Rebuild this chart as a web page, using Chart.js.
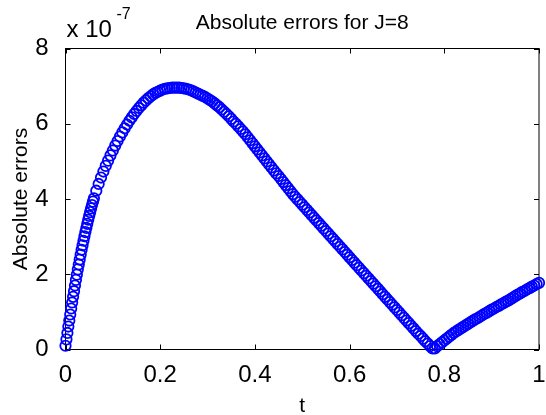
<!DOCTYPE html>
<html>
<head>
<meta charset="utf-8">
<script src="https://cdn.jsdelivr.net/npm/chart.js@4.4.1/dist/chart.umd.min.js"></script>
<style>
  html, body { margin: 0; padding: 0; background: #fff; }
  canvas { display: block; }
</style>
</head>
<body>
<canvas id="chart" width="546" height="415"></canvas>
<script>
// values, in units of 1e-7
const titleText = 'Absolute errors for J=8';
const xLabel = 't';
const yLabel = 'Absolute errors';
const yExponent = '-7';

const xTicks = [0, 0.2, 0.4, 0.6, 0.8, 1];
const yTicks = [0, 2, 4, 6, 8];

// steep start, sampled finer: t = 0 .. 0.060, step 0.002
const earlyStart = 0, earlyStep = 0.002;
const earlyErrors = [
  0.10, 0.27, 0.44, 0.61, 0.77, 0.93, 1.09, 1.25, 1.40, 1.55,
  1.70, 1.85, 1.99, 2.13, 2.26, 2.39, 2.52, 2.65, 2.77, 2.89,
  3.01, 3.12, 3.23, 3.34, 3.45, 3.55, 3.65, 3.75, 3.84, 3.93,
  4.02
];

// rest of the curve: t = 0.065 .. 1.000, step 0.005
const mainStart = 0.065, mainStep = 0.005;
const mainErrors = [
  4.22, 4.40, 4.57, 4.73, 4.88, 5.02, 5.16, 5.29, 5.42, 5.54,
  5.66, 5.77, 5.88, 5.98, 6.08, 6.17, 6.26, 6.34, 6.42, 6.49,
  6.56, 6.62, 6.68, 6.73, 6.78, 6.82, 6.85, 6.88, 6.91, 6.93,
  6.94, 6.95, 6.96, 6.96, 6.96, 6.96, 6.95, 6.94, 6.93, 6.91,
  6.89, 6.86, 6.83, 6.80, 6.77, 6.74, 6.71, 6.67, 6.63, 6.59,
  6.54, 6.49, 6.44, 6.38, 6.32, 6.26, 6.20, 6.13, 6.06, 6.00,
  5.93, 5.86, 5.79, 5.72, 5.64, 5.56, 5.48, 5.40, 5.32, 5.24,
  5.16, 5.08, 5.00, 4.92, 4.84, 4.76, 4.68, 4.61, 4.53, 4.45,
  4.37, 4.29, 4.21, 4.13, 4.06, 3.99, 3.92, 3.85, 3.78, 3.71,
  3.64, 3.57, 3.50, 3.43, 3.36, 3.29, 3.22, 3.15, 3.08, 3.01,
  2.94, 2.87, 2.80, 2.73, 2.66, 2.59, 2.52, 2.45, 2.38, 2.31,
  2.24, 2.17, 2.10, 2.03, 1.96, 1.89, 1.82, 1.75, 1.68, 1.61,
  1.54, 1.47, 1.40, 1.33, 1.26, 1.19, 1.12, 1.05, 0.98, 0.91,
  0.84, 0.77, 0.70, 0.63, 0.56, 0.49, 0.42, 0.36, 0.29, 0.22,
  0.16, 0.09, 0.03, 0.03, 0.09, 0.14, 0.19, 0.24, 0.29, 0.34,
  0.39, 0.44, 0.48, 0.52, 0.56, 0.60, 0.64, 0.68, 0.72, 0.76,
  0.80, 0.83, 0.87, 0.91, 0.95, 0.98, 1.02, 1.06, 1.09, 1.13,
  1.16, 1.20, 1.23, 1.27, 1.30, 1.34, 1.38, 1.42, 1.46, 1.49,
  1.53, 1.56, 1.60, 1.63, 1.67, 1.70, 1.74, 1.77
];

const points = [
  ...earlyErrors.map((v, i) => ({ x: +(earlyStart + i * earlyStep).toFixed(4), y: v })),
  ...mainErrors.map((v, i) => ({ x: +(mainStart + i * mainStep).toFixed(4), y: v })),
];

const FONT = "'Liberation Sans', Arial, sans-serif";

// MATLAB style box with inward ticks on all four sides
const matlabAxes = {
  id: 'matlabAxes',
  beforeDatasetsDraw(chart) {
    const { ctx, chartArea: a, scales: { x, y } } = chart;
    const tl = 5;
    ctx.save();
    ctx.strokeStyle = '#000';
    ctx.lineWidth = 1;
    ctx.strokeRect(a.left, a.top, a.right - a.left, a.bottom - a.top);
    ctx.beginPath();
    xTicks.forEach(v => {
      const px = Math.round(x.getPixelForValue(v)) + 0.5;
      ctx.moveTo(px, a.bottom); ctx.lineTo(px, a.bottom - tl);
      ctx.moveTo(px, a.top); ctx.lineTo(px, a.top + tl);
    });
    yTicks.forEach(v => {
      const py = Math.round(y.getPixelForValue(v)) + 0.5;
      ctx.moveTo(a.left, py); ctx.lineTo(a.left + tl, py);
      ctx.moveTo(a.right, py); ctx.lineTo(a.right - tl, py);
    });
    ctx.stroke();
    ctx.restore();
  },
  afterDraw(chart) {
    const { ctx, chartArea: a } = chart;
    ctx.save();
    ctx.fillStyle = '#000';
    ctx.textBaseline = 'alphabetic';
    ctx.textAlign = 'center';
    ctx.font = `21px ${FONT}`;
    ctx.fillText(titleText, (a.left + a.right) / 2, 29);
    ctx.textAlign = 'left';
    ctx.font = `24px ${FONT}`;
    ctx.fillText('x 10', a.left + 1, 37);
    ctx.font = `16px ${FONT}`;
    ctx.fillText(yExponent, a.left + 51, 19);
    ctx.restore();
  }
};

new Chart(document.getElementById('chart'), {
  type: 'scatter',
  data: {
    datasets: [{
      data: points,
      showLine: false,
      pointStyle: 'circle',
      pointRadius: 5.2,
      pointHoverRadius: 5.2,
      borderWidth: 1.8,
      borderColor: '#0000ff',
      backgroundColor: 'rgba(0,0,0,0)',
      clip: false,
    }]
  },
  options: {
    responsive: false,
    animation: false,
    devicePixelRatio: 1,
    layout: { padding: { top: 48.5, right: 1.5, left: 0, bottom: 0 } },
    plugins: {
      legend: { display: false },
      tooltip: { enabled: false },
      title: { display: false },
    },
    scales: {
      x: {
        type: 'linear',
        min: 0, max: 1,
        grid: { display: false },
        border: { display: false },
        afterBuildTicks: s => { s.ticks = xTicks.map(v => ({ value: v })); },
        afterFit: s => { s.height = 65.5; s.paddingLeft = 0; s.paddingRight = 0; },
        ticks: {
          color: '#000',
          font: { family: FONT, size: 24 },
          padding: 3,
          maxRotation: 0,
          autoSkip: false,
          callback: v => String(+v.toFixed(1)),
        },
        title: {
          display: true,
          text: xLabel,
          color: '#000',
          font: { family: FONT, size: 21 },
          padding: { top: 0, bottom: -4 },
        },
      },
      y: {
        type: 'linear',
        min: 0, max: 8,
        grid: { display: false },
        border: { display: false },
        afterBuildTicks: s => { s.ticks = yTicks.map(v => ({ value: v })); },
        afterFit: s => { s.width = 65.5; s.paddingTop = 0; s.paddingBottom = 0; },
        ticks: {
          color: '#000',
          font: { family: FONT, size: 24 },
          padding: 9,
          callback: v => String(v),
        },
        title: {
          display: true,
          text: yLabel,
          color: '#000',
          font: { family: FONT, size: 21 },
          padding: { top: 9, bottom: 0 },
        },
      },
    },
  },
  plugins: [matlabAxes],
});
</script>
</body>
</html>
